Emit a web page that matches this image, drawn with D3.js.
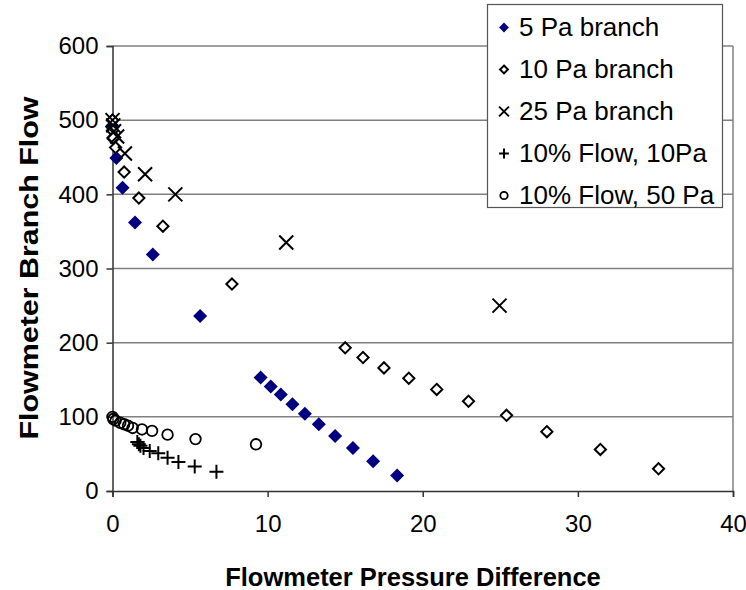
<!DOCTYPE html>
<html><head><meta charset="utf-8">
<script src="https://cdn.jsdelivr.net/npm/d3@7"></script>
<style>
html,body{margin:0;padding:0;background:#fff;}
svg text{font-family:"Liberation Sans",Arial,sans-serif;fill:#000;}
</style></head>
<body><svg id="c" width="746" height="590"></svg>
<script>
// ---- data ----
const xTicks = [0, 10, 20, 30, 40];
const yTicks = [0, 100, 200, 300, 400, 500, 600];
const seriesNames = ["5 Pa branch", "10 Pa branch", "25 Pa branch", "10% Flow, 10Pa", "10% Flow, 50 Pa"];
const pa5X  = [0.0, 0.0, 0.05, 0.25, 0.65, 1.45, 2.6, 5.65, 9.55, 10.2, 10.85, 11.6, 12.4, 13.3, 14.35, 15.5, 16.8, 18.35];
const pa5Y  = [500, 490, 475, 449, 409, 362, 319, 236, 153, 141, 130, 117, 104, 90, 74, 58, 40, 21];
const pa10X = [0.0, 0.0, 0.05, 0.2, 0.75, 1.7, 3.25, 7.7, 15.0, 16.15, 17.5, 19.1, 20.9, 22.95, 25.4, 28.0, 31.45, 35.2];
const pa10Y = [500, 486, 476, 463, 430, 395, 357, 279, 193, 180, 166, 152, 137, 121, 102, 80, 56, 30];
const pa25X = [0.0, 0.05, 0.1, 0.3, 0.8, 2.1, 4.05, 11.2, 24.95];
const pa25Y = [500, 493, 485, 478, 455, 427, 400, 335, 250];
const f10X  = [1.6, 1.7, 1.8, 2.0, 2.4, 2.95, 3.55, 4.25, 5.3, 6.7];
const f10Y  = [66, 63, 61, 58, 54, 51, 45, 39, 33, 26];
const f50X  = [0.0, 0.05, 0.2, 0.5, 0.75, 1.0, 1.3, 1.9, 2.55, 3.55, 5.35, 9.25];
const f50Y  = [100, 97, 95, 92, 90, 88, 85, 83, 81, 76, 70, 63];

// ---- layout ----
const L = 112.5, R = 733, T = 46, B = 491;
const svg = d3.select("#c");
const x = d3.scaleLinear().domain([0, 40]).range([L, R]);
const y = d3.scaleLinear().domain([0, 600]).range([B, T]);

// gridlines
svg.append("g").selectAll("line").data(yTicks.filter(d => d > 0)).join("line")
  .attr("x1", L).attr("x2", R).attr("y1", d => y(d)).attr("y2", d => y(d))
  .attr("stroke", "#808080").attr("stroke-width", 1.5);
// right plot border
svg.append("line").attr("x1", R).attr("x2", R).attr("y1", T).attr("y2", B)
  .attr("stroke", "#808080").attr("stroke-width", 1.5);

// axes
const xAxis = svg.append("g").attr("transform", `translate(0,${B})`)
  .call(d3.axisBottom(x).tickValues(xTicks).tickSize(6).tickPadding(18));
const yAxis = svg.append("g").attr("transform", `translate(${L},0)`)
  .call(d3.axisLeft(y).tickValues(yTicks).tickSize(6).tickPadding(8));
[xAxis, yAxis].forEach(a => {
  a.select(".domain").attr("stroke", "#333").attr("stroke-width", 1.5);
  a.selectAll(".tick line").attr("stroke", "#333").attr("stroke-width", 1.5);
  a.selectAll(".tick text").attr("font-size", 24).attr("font-family", "Liberation Sans, Arial, sans-serif").attr("fill", "#000");
});

// axis titles
svg.append("text").attr("x", 413).attr("y", 586).attr("text-anchor", "middle")
  .attr("font-size", 25.5).attr("font-weight", "bold").text("Flowmeter Pressure Difference");
svg.append("text").attr("transform", "translate(38,268) rotate(-90)").attr("text-anchor", "middle")
  .attr("font-size", 26).attr("font-weight", "bold")
  .attr("textLength", 343).attr("lengthAdjust", "spacingAndGlyphs").text("Flowmeter Branch Flow");

// marker drawers
function diamond(s) { return `M0,${-s}L${s},0L0,${s}L${-s},0Z`; }
function cross(s) { return `M${-s},${-s}L${s},${s}M${-s},${s}L${s},${-s}`; }
function plus(s) { return `M${-s},0L${s},0M0,${-s}L0,${s}`; }
const styles = [
  {draw: (g, k) => g.append("path").attr("d", diamond(7 * k)).attr("fill", "#000080")},
  {draw: (g, k) => g.append("path").attr("d", diamond(5.6 * k)).attr("fill", "#fff").attr("stroke", "#000").attr("stroke-width", 2)},
  {draw: (g, k) => g.append("path").attr("d", cross(7 * k)).attr("fill", "none").attr("stroke", "#000").attr("stroke-width", 2)},
  {draw: (g, k) => g.append("path").attr("d", plus(7 * k)).attr("fill", "none").attr("stroke", "#000").attr("stroke-width", 2)},
  {draw: (g, k) => g.append("circle").attr("r", 5.3 * k).attr("fill", "none").attr("stroke", "#000").attr("stroke-width", 1.8)}
];
const allSeries = [[pa5X, pa5Y], [pa10X, pa10Y], [pa25X, pa25Y], [f10X, f10Y], [f50X, f50Y]];
allSeries.forEach(([xs, ys], i) => {
  const g = svg.append("g");
  xs.forEach((xv, j) => {
    const m = g.append("g").attr("transform", `translate(${x(xv)},${y(ys[j])})`);
    styles[i].draw(m, 1);
  });
});

// legend
const lg = svg.append("g");
lg.append("rect").attr("x", 487.5).attr("y", 4.5).attr("width", 235).attr("height", 203)
  .attr("fill", "#fff").attr("stroke", "#555").attr("stroke-width", 1.2);
seriesNames.forEach((n, i) => {
  const cy = 26.5 + i * 42;
  const m = lg.append("g").attr("transform", `translate(504,${cy + 1})`);
  styles[i].draw(m, 0.7);
  lg.append("text").attr("x", 519).attr("y", cy + 9).attr("font-size", 26).text(n);
});
</script></body></html>
